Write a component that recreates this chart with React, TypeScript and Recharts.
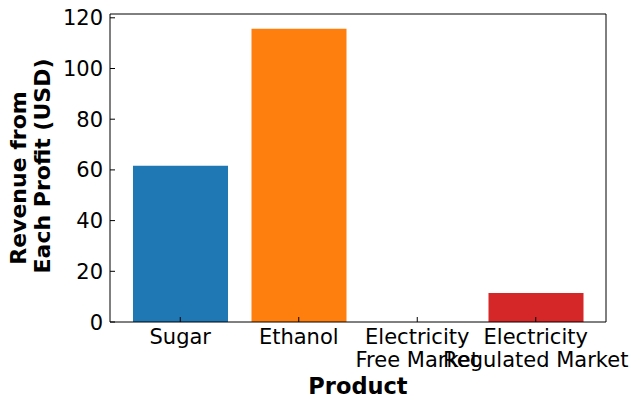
import React from "react";
import { BarChart, Bar, XAxis, YAxis, Cell, Label } from "recharts";

const products = ["Sugar", "Ethanol", "Electricity\nFree Market", "Electricity\nRegulated Market"];
const revenue = [61.6, 115.7, 0, 11.4];
const barColors = ["#1f77b4", "#ff7f0e", "#2ca02c", "#d62728"];
const yTicks = [0, 20, 40, 60, 80, 100, 120];

const data = products.map((p, i) => ({ product: p, revenue: revenue[i] }));

const FONT = "DejaVu Sans, sans-serif";

const XTick = (props: any) => {
  const { x, y, payload } = props;
  const lines = String(payload.value).split("\n");
  return (
    <g>
      <line x1={x} x2={x} y1={y} y2={y - 5} stroke="#000" strokeWidth={1} />
      {lines.map((l, i) => (
        <text key={i} x={x} y={y + 22 + i * 23} textAnchor="middle" fontSize={21} fontFamily={FONT} fill="#000">
          {l}
        </text>
      ))}
    </g>
  );
};

const YTick = (props: any) => {
  const { x, y, payload } = props;
  return (
    <g>
      <line x1={x} x2={x + 5} y1={y} y2={y} stroke="#000" strokeWidth={1} />
      <text x={x - 7} y={y + 7.5} textAnchor="end" fontSize={21} fontFamily={FONT} fill="#000">
        {payload.value}
      </text>
    </g>
  );
};

const YLabel = () => (
  <g fontSize={22} fontWeight="bold" fontFamily={FONT} fill="#000">
    <text transform="translate(0,178) rotate(-90)" textAnchor="middle" x={0} y={26}>
      Revenue from
    </text>
    <text transform="translate(0,166) rotate(-90)" textAnchor="middle" x={0} y={50}>
      Each Profit (USD)
    </text>
  </g>
);

export default function App() {
  return (
    <div style={{ position: "absolute", left: 0, top: 0, background: "#fff" }}>
      <BarChart
        width={640}
        height={409}
        data={data}
        margin={{ top: 13, right: 33, left: 0, bottom: 0 }}
        barSize={95}
      >
        <XAxis
          dataKey="product"
          height={87}
          padding={{ left: 11, right: 11 }}
          tick={<XTick />}
          tickLine={false}
          tickSize={0}
          tickMargin={0}
          interval={0}
          axisLine={{ stroke: "#000", strokeWidth: 1 }}
        >
          <Label
            value="Product"
            position="insideBottom"
            offset={15}
            fontSize={22.5}
            fontWeight="bold"
            fontFamily={FONT}
            fill="#000"
          />
        </XAxis>
        <XAxis
          xAxisId="top"
          orientation="top"
          dataKey="product"
          height={1}
          tick={false}
          tickLine={false}
          axisLine={{ stroke: "#000", strokeWidth: 1 }}
        />
        <YAxis
          width={110}
          domain={[0, 121.5]}
          ticks={yTicks}
          tick={<YTick />}
          tickLine={false}
          tickSize={0}
          tickMargin={0}
          axisLine={{ stroke: "#000", strokeWidth: 1 }}
          label={<YLabel />}
        />
        <YAxis
          yAxisId="right"
          orientation="right"
          width={1}
          domain={[0, 121.5]}
          tick={false}
          tickLine={false}
          axisLine={{ stroke: "#000", strokeWidth: 1 }}
        />
        <Bar dataKey="revenue" isAnimationActive={false}>
          {data.map((d, i) => (
            <Cell key={d.product} fill={barColors[i]} />
          ))}
        </Bar>
      </BarChart>
    </div>
  );
}
